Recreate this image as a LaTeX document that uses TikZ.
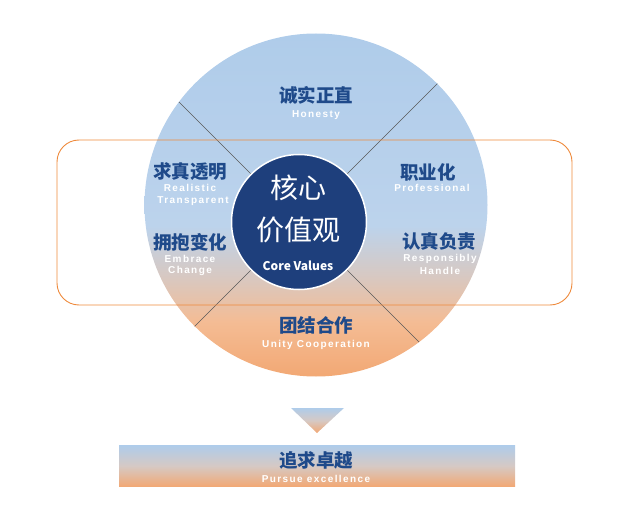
\documentclass[tikz,border=0pt]{standalone}
\usepackage{fontspec}
\setmainfont{Noto Sans CJK SC}
\newfontfamily\enfont[LetterSpace=14]{Liberation Sans}
\definecolor{navy}{HTML}{1E3F7C}
\definecolor{tblue}{HTML}{1F4A8A}
\definecolor{cblue}{HTML}{AFCCEA}
\definecolor{mblue}{HTML}{BCD3EC}
\definecolor{gmid}{HTML}{D6C9C4}
\definecolor{corange}{HTML}{F2A874}
\definecolor{lorange}{HTML}{F4BC94}
\definecolor{frame}{HTML}{EE8A3C}
\pgfdeclareverticalshading{circsh}{100bp}{color(0bp)=(corange); color(25bp)=(corange); color(33bp)=(lorange); color(40bp)=(gmid); color(47bp)=(mblue); color(75bp)=(cblue); color(100bp)=(cblue)}
\pgfdeclareverticalshading{barsh}{100bp}{color(0bp)=(corange); color(25bp)=(corange); color(50bp)=(gmid); color(75bp)=(cblue); color(100bp)=(cblue)}
\tikzset{
 zh/.style={text=tblue,font=\fontsize{18.5}{18.5}\selectfont\bfseries},
 en/.style={text=white,font=\enfont\bfseries\fontsize{10}{10}\selectfont}
}
\begin{document}
\begin{tikzpicture}[x=1pt,y=-1pt]
\useasboundingbox (0,0) rectangle (630,519);
\node[circle,minimum size=343pt,inner sep=0,shading=circsh] (big) at (316,205) {};
\coordinate (ic) at (299,222);
\begin{scope}
\clip (316,205) circle (171.5);
\foreach \a in {45,135,225,315}
  \draw[black!65,line width=0.6pt] (ic) -- ++(\a:260);
\end{scope}
\draw[frame,line width=0.9pt,rounded corners=22pt] (57,140) rectangle (572,305);
\node[circle,minimum size=135pt,inner sep=0,fill=navy,draw=white,line width=1.5pt] (core) at (ic) {};
\node[text=white,font=\fontsize{28}{28}\selectfont] (c1) at (298,188) {核心};
\node[text=white,font=\fontsize{28}{28}\selectfont] (c2) at (298,230) {价值观};
\node[text=white,font=\fontsize{12}{12}\selectfont\bfseries] (c3) at (298,266) {Core Values};
\node[zh] (h1) at (316,95) {诚实正直};
\node[en] (h2) at (316,115) {Honesty};
\node[zh] (r1) at (190,172) {求真透明};
\node[en] (r2) at (190,188) {Realistic};
\node[en] (r3) at (193,201) {Transparent};
\node[zh] (e1) at (190,242) {拥抱变化};
\node[en] (e2) at (190,259) {Embrace};
\node[en] (e3) at (190,271) {Change};
\node[zh] (p1) at (428,172) {职业化};
\node[en] (p2) at (432,188) {Professional};
\node[zh] (s1) at (439,242) {认真负责};
\node[en] (s2) at (440,259) {Responsibly};
\node[en] (s3) at (440,271) {Handle};
\node[zh] (u1) at (316,325) {团结合作};
\node[en] (u2) at (316,345) {Unity Cooperation};
\shade[shading=barsh] (291,408) -- (344,408) -- (317,433) -- cycle;
\node[minimum width=396pt,minimum height=41pt,inner sep=0,shading=barsh] (bar) at (317,466) {};
\node[zh] (b1) at (316,460) {追求卓越};
\node[en] (b2) at (316,479) {Pursue excellence};
\end{tikzpicture}
\end{document}
